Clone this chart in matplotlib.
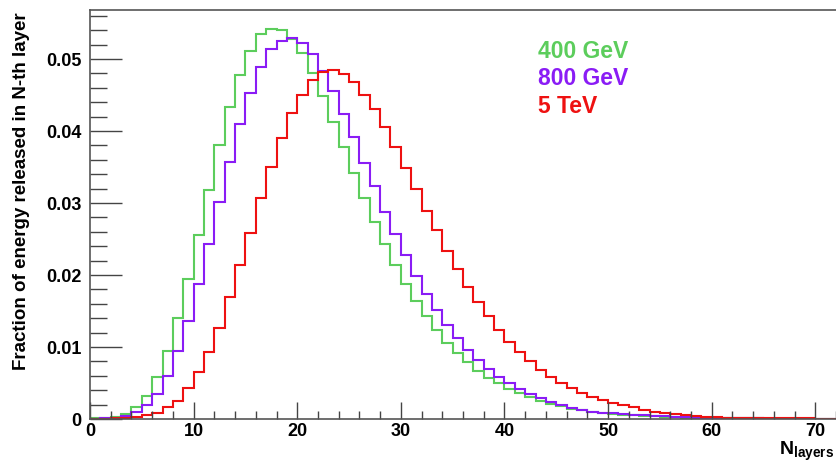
import numpy as np
import matplotlib
matplotlib.use("Agg")
import matplotlib.pyplot as plt
from matplotlib.ticker import MultipleLocator, FixedFormatter, FixedLocator

plt.rcParams["font.family"] = ["Liberation Sans", "DejaVu Sans"]
plt.rcParams["font.weight"] = "bold"
plt.rcParams["mathtext.fontset"] = "custom"
plt.rcParams["mathtext.bf"] = "Liberation Sans:bold"
plt.rcParams["mathtext.rm"] = "Liberation Sans:bold"

# bin edges: one layer per bin, 0..72
edges = np.arange(0, 73)

e400 = [0.0001, 0.0002, 0.0003, 0.0007, 0.0016, 0.0032, 0.0058, 0.0095, 0.0140, 0.0195,
        0.0256, 0.0318, 0.0381, 0.0433, 0.0478, 0.0511, 0.0534, 0.0542, 0.0540, 0.0528,
        0.0508, 0.0481, 0.0448, 0.0413, 0.0378, 0.0342, 0.0307, 0.0274, 0.0243, 0.0214,
        0.0188, 0.0164, 0.0143, 0.0124, 0.0106, 0.0092, 0.0079, 0.0066, 0.0057, 0.0050,
        0.0042, 0.0036, 0.0030, 0.0025, 0.0021, 0.0018, 0.0014, 0.0012, 0.0010, 0.0008,
        0.0007, 0.0006, 0.0005, 0.0004, 0.0004, 0.0003, 0.0003, 0.0002, 0.0002, 0.0002,
        0.0001, 0.0001, 0.0001, 0.0001, 0.0001, 0.0, 0.0, 0.0, 0.0, 0.0,
        0.0, 0.0]

e800 = [0.0000, 0.0001, 0.0002, 0.0004, 0.0010, 0.0019, 0.0035, 0.0060, 0.0094, 0.0136,
        0.0188, 0.0243, 0.0301, 0.0357, 0.0410, 0.0453, 0.0489, 0.0514, 0.0525, 0.0529,
        0.0522, 0.0507, 0.0483, 0.0456, 0.0423, 0.0391, 0.0355, 0.0323, 0.0288, 0.0257,
        0.0228, 0.0199, 0.0174, 0.0151, 0.0131, 0.0113, 0.0096, 0.0082, 0.0069, 0.0059,
        0.0050, 0.0042, 0.0035, 0.0029, 0.0023, 0.0019, 0.0015, 0.0013, 0.0010, 0.0009,
        0.0008, 0.0007, 0.0006, 0.0005, 0.0004, 0.0004, 0.0003, 0.0003, 0.0002, 0.0002,
        0.0002, 0.0001, 0.0001, 0.0001, 0.0001, 0.0, 0.0, 0.0, 0.0, 0.0,
        0.0, 0.0]

e5tev = [0.0000, 0.0000, 0.0001, 0.0001, 0.0003, 0.0006, 0.0009, 0.0016, 0.0025, 0.0043,
         0.0065, 0.0093, 0.0127, 0.0170, 0.0214, 0.0259, 0.0307, 0.0350, 0.0390, 0.0425,
         0.0450, 0.0471, 0.0482, 0.0484, 0.0479, 0.0468, 0.0450, 0.0430, 0.0405, 0.0378,
         0.0349, 0.0319, 0.0289, 0.0262, 0.0234, 0.0208, 0.0184, 0.0162, 0.0143, 0.0124,
         0.0107, 0.0093, 0.0080, 0.0068, 0.0058, 0.0050, 0.0043, 0.0036, 0.0031, 0.0026,
         0.0022, 0.0019, 0.0016, 0.0013, 0.0010, 0.0008, 0.0007, 0.0005, 0.0004, 0.0003,
         0.0003, 0.0002, 0.0002, 0.0001, 0.0001, 0.0001, 0.0001, 0.0001, 0.0001, 0.0001,
         0.0, 0.0]

labels = ["400 GeV", "800 GeV", "5 TeV"]
colors = ["#5ccd5c", "#8a1cf5", "#ee1111"]
x_ticks = [0, 10, 20, 30, 40, 50, 60, 70]
y_ticks = [0, 0.01, 0.02, 0.03, 0.04, 0.05]
y_tick_labels = ["0", "0.01", "0.02", "0.03", "0.04", "0.05"]

fig = plt.figure(figsize=(8.36, 4.64), dpi=100)
ax = fig.add_axes([90 / 836, 44 / 464, 746 / 836, 409 / 464])

for vals, c in zip([e400, e800, e5tev], colors):
    ax.stairs(vals, edges, color=c, linewidth=1.5)

ax.set_xlim(0, 72)
ax.set_ylim(0, 0.0568)

ax.xaxis.set_major_locator(FixedLocator(x_ticks))
ax.xaxis.set_minor_locator(MultipleLocator(2))
ax.yaxis.set_major_locator(FixedLocator(y_ticks))
ax.yaxis.set_major_formatter(FixedFormatter(y_tick_labels))
ax.yaxis.set_minor_locator(MultipleLocator(0.002))

ax.tick_params(axis="x", which="major", direction="in", length=12, width=1,
               labelsize=13, pad=2, color="#444444")
ax.tick_params(axis="x", which="minor", direction="in", length=6, width=1, color="#444444")
ax.tick_params(axis="y", which="major", direction="in", length=23, width=1,
               labelsize=13, pad=6, color="#444444")
ax.tick_params(axis="y", which="minor", direction="in", length=12, width=1, color="#444444")

for side in ["left", "bottom", "top"]:
    ax.spines[side].set_color("#555555")
    ax.spines[side].set_linewidth(1.2)
ax.spines["right"].set_visible(False)

fig.text(22 / 836, 1 - 191 / 464, "Fraction of energy released in N-th layer",
         rotation=90, ha="center", va="center", fontsize=13.5, fontweight="bold")
fig.text(834 / 836, 1 - 455 / 464, r"$\mathbf{N}_{\mathbf{layers}}$",
         ha="right", va="baseline", fontsize=14)

for i, (lab, c) in enumerate(zip(labels, colors)):
    fig.text(538 / 836, 1 - (58 + 27.5 * i) / 464, lab, color=c,
             fontsize=16.5, fontweight="bold", ha="left", va="baseline")

fig.savefig("out.png", dpi=100)
